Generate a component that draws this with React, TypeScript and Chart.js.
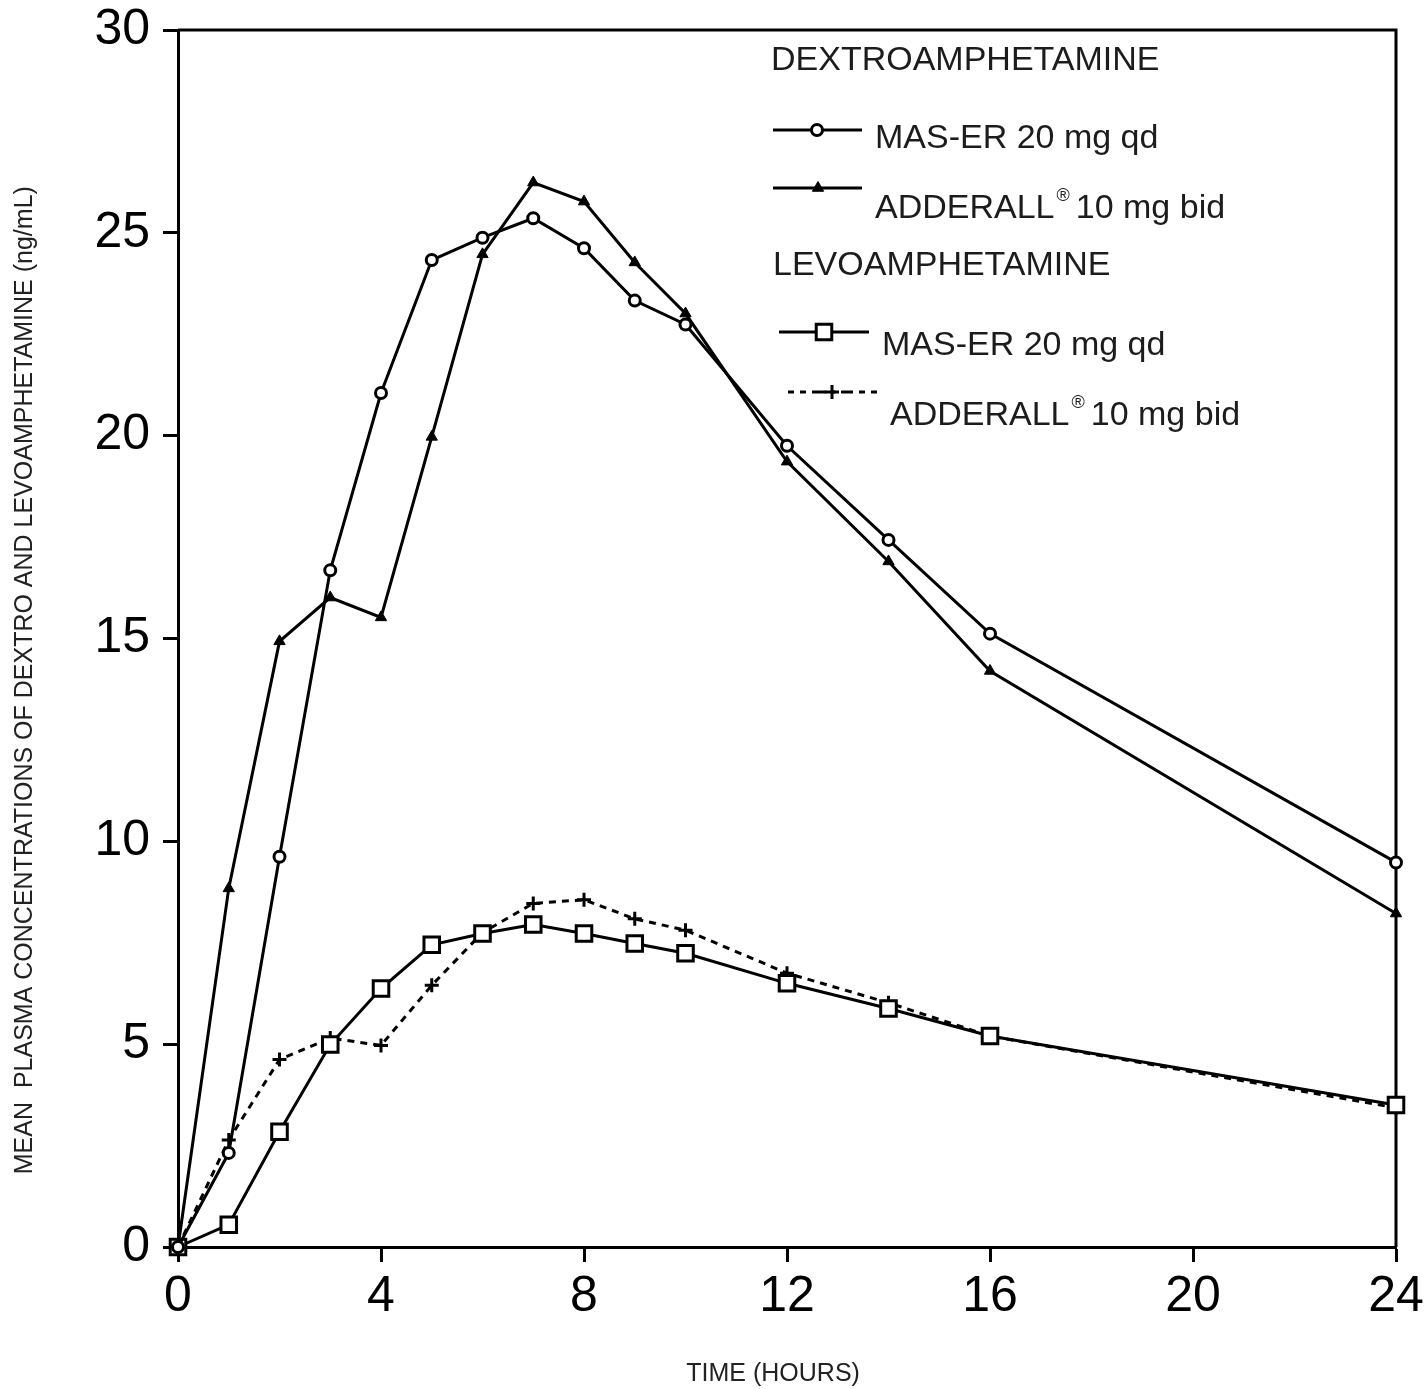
import React, { useEffect, useRef } from 'react';
import { Chart, registerables } from 'chart.js';
import { drawPoint } from 'chart.js/helpers';

Chart.register(...registerables);

// ---- data ----
const hours = [0, 1, 2, 3, 4, 5, 6, 7, 8, 9, 10, 12, 14, 16, 24];
const dextroMasEr = [0, 2.32, 9.62, 16.68, 21.05, 24.33, 24.88, 25.36, 24.62, 23.33, 22.74, 19.75, 17.43, 15.12, 9.48];
const dextroAdderall = [0, 8.84, 14.93, 16.01, 15.52, 19.97, 24.47, 26.24, 25.77, 24.27, 23.01, 19.36, 16.9, 14.2, 8.22];
const levoMasEr = [0, 0.55, 2.84, 4.99, 6.37, 7.45, 7.73, 7.95, 7.73, 7.48, 7.24, 6.5, 5.88, 5.2, 3.5];
const levoAdderall = [0, 2.64, 4.62, 5.15, 4.97, 6.45, 7.75, 8.47, 8.56, 8.09, 7.81, 6.75, 6.02, 5.2, 3.43];

const xTicks = [0, 4, 8, 12, 16, 20, 24];
const yTicks = [0, 5, 10, 15, 20, 25, 30];

const groupTitles = ['DEXTROAMPHETAMINE', 'LEVOAMPHETAMINE'];
const seriesLabels = ['MAS-ER 20 mg qd', 'ADDERALL® 10 mg bid', 'MAS-ER 20 mg qd', 'ADDERALL® 10 mg bid'];
const xTitle = 'TIME (HOURS)';
const yTitle = 'MEAN  PLASMA CONCENTRATIONS OF DEXTRO AND LEVOAMPHETAMINE (ng/mL)';

const FONT = '"Liberation Sans", Arial, Helvetica, sans-serif';

const toPoints = (ys: number[]) => hours.map((h, i) => ({ x: h, y: ys[i] }));

// frame around the plot area (top & right sides)
const framePlugin = {
  id: 'frame',
  beforeDatasetsDraw(chart: any) {
    const { ctx, chartArea: a } = chart;
    ctx.save();
    ctx.strokeStyle = '#000';
    ctx.lineWidth = 3;
    ctx.beginPath();
    ctx.moveTo(a.left, a.top);
    ctx.lineTo(a.right, a.top);
    ctx.lineTo(a.right, a.bottom);
    ctx.stroke();
    ctx.restore();
  },
};

// grouped legend drawn inside the plot area
const legendPlugin = {
  id: 'groupedLegend',
  afterDraw(chart: any) {
    const { ctx, chartArea: a } = chart;
    const L = a.left;
    const T = a.top;
    const headings = [
      { text: groupTitles[0], dx: 593, base: 40 },
      { text: groupTitles[1], dx: 595, base: 245 },
    ];
    const rows = [
      { ds: 0, x1: 595, x2: 684, ly: 100, mx: 639, tx: 697, base: 118, dash: null as number[] | null },
      { ds: 1, x1: 595, x2: 684, ly: 158, mx: 640, tx: 697, base: 188, dash: null },
      { ds: 2, x1: 601, x2: 691, ly: 302, mx: 646, tx: 704, base: 325, dash: null },
      { ds: 3, x1: 610, x2: 700, ly: 362, mx: 654, tx: 712, base: 395, dash: [6, 6, 6, 6, 14, 6, 3, 6, 12, 6] },
    ];
    ctx.save();
    ctx.textAlign = 'left';
    ctx.textBaseline = 'alphabetic';
    ctx.fillStyle = '#1c1c1c';
    ctx.font = `34px ${FONT}`;
    headings.forEach((h) => ctx.fillText(h.text, L + h.dx, T + h.base));

    rows.forEach((r) => {
      const ds: any = chart.data.datasets[r.ds];
      // sample line
      ctx.save();
      ctx.strokeStyle = ds.borderColor;
      ctx.lineWidth = ds.borderWidth;
      ctx.setLineDash(r.dash || ds.borderDash || []);
      ctx.beginPath();
      ctx.moveTo(L + r.x1, T + r.ly);
      ctx.lineTo(L + r.x2, T + r.ly);
      ctx.stroke();
      ctx.setLineDash([]);
      ctx.fillStyle = ds.pointBackgroundColor;
      ctx.strokeStyle = ds.pointBorderColor;
      ctx.lineWidth = ds.pointBorderWidth;
      drawPoint(ctx, { pointStyle: ds.pointStyle, radius: ds.pointRadius, rotation: 0, borderWidth: ds.pointBorderWidth }, L + r.mx, T + r.ly);
      ctx.restore();

      // label text, with raised ®
      const label = seriesLabels[r.ds];
      const parts = label.split('®');
      let x = L + r.tx;
      const y = T + r.base;
      ctx.font = `34px ${FONT}`;
      ctx.fillText(parts[0], x, y);
      x += ctx.measureText(parts[0]).width;
      if (parts.length > 1) {
        ctx.font = `18px ${FONT}`;
        ctx.fillText('®', x + 2, y - 17);
        x += ctx.measureText('®').width + 8;
        ctx.font = `34px ${FONT}`;
        ctx.fillText(parts[1].trimStart(), x, y);
      }
    });
    ctx.restore();
  },
};

export default function App() {
  const ref = useRef<HTMLCanvasElement | null>(null);

  useEffect(() => {
    if (!ref.current) return;
    const lineBase = {
      borderColor: '#000',
      borderWidth: 3,
      pointBorderColor: '#000',
      pointBorderWidth: 3,
      pointHoverRadius: 0,
      tension: 0,
      fill: false,
      clip: false as any,
    };
    const chart = new Chart(ref.current, {
      type: 'line',
      data: {
        datasets: [
          {
            ...lineBase,
            label: `${groupTitles[0]} ${seriesLabels[0]}`,
            data: toPoints(dextroMasEr),
            pointStyle: 'circle',
            pointRadius: 5.5,
            pointBackgroundColor: '#fff',
          },
          {
            ...lineBase,
            label: `${groupTitles[0]} ${seriesLabels[1]}`,
            data: toPoints(dextroAdderall),
            pointStyle: 'triangle',
            pointRadius: 6.5,
            pointBorderWidth: 1,
            pointBackgroundColor: '#000',
          },
          {
            ...lineBase,
            label: `${groupTitles[1]} ${seriesLabels[2]}`,
            data: toPoints(levoMasEr),
            pointStyle: 'rect',
            pointRadius: 11,
            pointBackgroundColor: '#fff',
          },
          {
            ...lineBase,
            label: `${groupTitles[1]} ${seriesLabels[3]}`,
            data: toPoints(levoAdderall),
            borderDash: [7, 6],
            pointStyle: 'cross',
            pointRadius: 7,
            pointBackgroundColor: '#000',
          },
        ] as any,
      },
      options: {
        responsive: false,
        animation: false,
        events: [],
        layout: { padding: { top: 30, right: 28, left: 0, bottom: 0 } },
        plugins: {
          legend: { display: false },
          tooltip: { enabled: false },
        },
        scales: {
          x: {
            type: 'linear',
            min: 0,
            max: 24,
            afterBuildTicks: (s: any) => {
              s.ticks = xTicks.map((v) => ({ value: v }));
            },
            afterFit: (s: any) => {
              s.height = 142;
              s.paddingLeft = 0;
              s.paddingRight = 0;
            },
            grid: {
              display: true,
              drawOnChartArea: false,
              drawTicks: true,
              tickLength: 15,
              tickWidth: 3,
              tickColor: '#000',
              color: '#000',
            },
            border: { display: true, color: '#000', width: 3 },
            ticks: {
              color: '#000',
              font: { family: FONT, size: 50, lineHeight: 1 },
              padding: 10,
              maxRotation: 0,
              autoSkip: false,
            },
            title: {
              display: true,
              text: xTitle + '    ',
              color: '#222',
              font: { family: FONT, size: 25 },
              padding: { top: 0, bottom: 0 },
            },
          },
          y: {
            type: 'linear',
            min: 0,
            max: 30,
            afterBuildTicks: (s: any) => {
              s.ticks = yTicks.map((v) => ({ value: v }));
            },
            afterFit: (s: any) => {
              s.width = 178;
              s.paddingTop = 0;
              s.paddingBottom = 0;
            },
            grid: {
              display: true,
              drawOnChartArea: false,
              drawTicks: true,
              tickLength: 15,
              tickWidth: 3,
              tickColor: '#000',
              color: '#000',
            },
            border: { display: true, color: '#000', width: 3 },
            ticks: {
              color: '#000',
              font: { family: FONT, size: 50, lineHeight: 1 },
              padding: 13,
              autoSkip: false,
            },
            title: {
              display: true,
              text: yTitle + '            ',
              color: '#222',
              font: { family: FONT, size: 25 },
              padding: { top: 10, bottom: 0 },
            },
          },
        },
      },
      plugins: [framePlugin, legendPlugin],
    } as any);
    return () => chart.destroy();
  }, []);

  return (
    <div style={{ position: 'absolute', left: 0, top: 0, width: 1424, height: 1389, background: '#fff' }}>
      <canvas ref={ref} width={1424} height={1389} style={{ display: 'block' }} />
    </div>
  );
}
